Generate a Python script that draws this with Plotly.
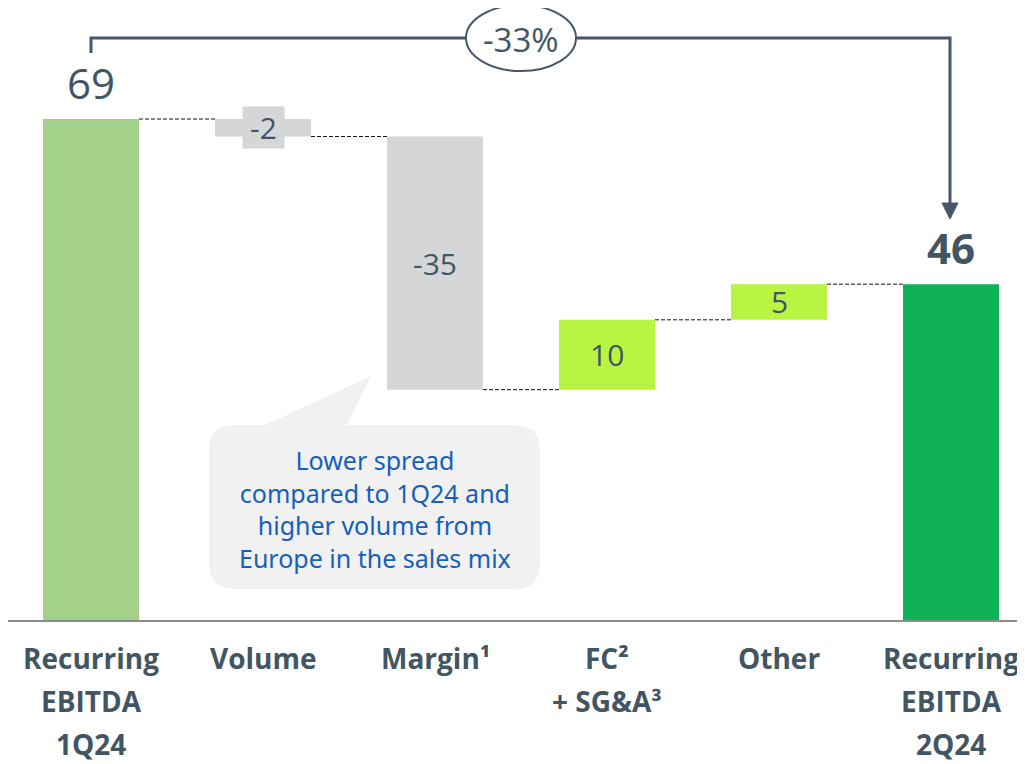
import plotly.graph_objects as go

# --- data ---------------------------------------------------------------
categories = ["Recurring EBITDA 1Q24", "Volume", "Margin¹", "FC² + SG&A³", "Other", "Recurring EBITDA 2Q24"]
cat_lines = [["Recurring", "EBITDA", "1Q24"], ["Volume"], ["Margin¹"],
             ["FC²", "+ SG&A³"], ["Other"], ["Recurring", "EBITDA", "2Q24"]]
measures = ["absolute", "relative", "relative", "relative", "relative", "total"]
values = [69, -2.4, -34.8, 9.6, 4.9, 46.3]
labels = ["69", "-2", "-35", "10", "5", "46"]
colors = ["#a4d18a", "#d5d6d8", "#d5d6d8", "#b9f443", "#b9f443", "#0fb356"]
change_label = "-33%"
callout = "Lower spread<br>compared to 1Q24 and<br>higher volume from<br>Europe in the sales mix"

# page body has an 8px margin, so the figure sits at (8, 8) in the window
OFF = 8
W, H = 1025 - OFF, 764 - OFF
INK = "#425563"
LINE = "#45576a"
NUM_FONT = "Open Sans"

# running bases for a waterfall made of plain bars
bases, heights, tops = [], [], []
run = 0
for m, v in zip(measures, values):
    if m == "relative":
        bases.append(run); heights.append(v); run += v
    else:
        bases.append(0); heights.append(v); run = v
    tops.append(run)

xs = list(range(len(categories)))
BW = 0.558
STEP, X0, Y0, SCALE = 172, 91, 621, 7.275  # window pixels for category spacing, axis origin

# window pixel -> paper helpers
def px(x): return (x - OFF) / W
def py(y): return 1 - (y - OFF) / H

fig = go.Figure()
fig.add_trace(go.Bar(x=xs, y=heights, base=bases, width=BW,
                     marker=dict(color=colors, line=dict(width=0)),
                     hoverinfo="skip"))

fig.update_layout(
    width=W, height=H, margin=dict(l=0, r=0, t=0, b=0),
    paper_bgcolor="white", plot_bgcolor="white", showlegend=False,
    xaxis=dict(range=[(OFF - X0) / STEP, (1025 - X0) / STEP], visible=False, fixedrange=True),
    yaxis=dict(range=[-(764 - Y0) / SCALE, (Y0 - OFF) / SCALE], visible=False, fixedrange=True),
)

# baseline
fig.add_shape(type="line", xref="paper", yref="y", x0=px(5), x1=1, y0=0, y1=0,
              line=dict(color="#8c8c8c", width=2))

# dashed connectors
for i in range(len(xs) - 1):
    lvl = tops[i]
    fig.add_shape(type="line", xref="x", yref="y", x0=xs[i] + BW / 2, x1=xs[i + 1] - BW / 2,
                  y0=lvl, y1=lvl, line=dict(color="#111", width=1, dash="4px,2px"))

# value labels
for i, (m, lab) in enumerate(zip(measures, labels)):
    if m != "relative":
        bold = i == len(xs) - 1
        fig.add_annotation(x=xs[i], y=tops[i], yanchor="bottom", yshift=6, showarrow=False,
                           text=f"<b>{lab}</b>" if bold else lab,
                           font=dict(family=NUM_FONT, size=42, color=INK))
    elif abs(heights[i]) < 4:
        fig.add_annotation(x=xs[i], y=bases[i] + heights[i] / 2, showarrow=False, text=lab,
                           xanchor="center", yanchor="middle",
                           width=41, height=41, bgcolor="#d5d6d8", borderpad=0,
                           font=dict(family=NUM_FONT, size=30, color=INK))
    else:
        fig.add_annotation(x=xs[i], y=bases[i] + heights[i] / 2, showarrow=False, text=lab,
                           xanchor="center", yanchor="middle",
                           font=dict(family=NUM_FONT, size=30, color=INK))

# category labels, one line at a time for tighter control of spacing
for i, lines in enumerate(cat_lines):
    for j, t in enumerate(lines):
        fig.add_annotation(x=xs[i], xref="x", yref="paper", y=py(658 + 43 * j), showarrow=False,
                           xanchor="center", yanchor="middle",
                           text=f"<b>{t}</b>", font=dict(family=NUM_FONT, size=28, color=INK))

# bracket with arrow from first to last bar
fig.add_shape(type="path", xref="paper", yref="paper",
              path=f"M {px(91)},{py(53)} L {px(91)},{py(38)} L {px(950)},{py(38)} L {px(950)},{py(206)}",
              line=dict(color=LINE, width=3))
fig.add_shape(type="path", xref="paper", yref="paper",
              path=f"M {px(942)},{py(203)} L {px(958)},{py(203)} L {px(950)},{py(219)} Z",
              fillcolor=LINE, line=dict(color=LINE, width=1))
fig.add_shape(type="circle", xref="paper", yref="paper",
              x0=px(466), x1=px(576), y0=py(71), y1=py(5),
              fillcolor="white", line=dict(color=LINE, width=2))
fig.add_annotation(xref="paper", yref="paper", x=px(521), y=py(39), showarrow=False,
                   xanchor="center", yanchor="middle",
                   text=change_label, font=dict(family=NUM_FONT, size=33, color=INK))

# callout bubble
L_, R_, T_, B_, r = 209, 540, 425, 589, 26
bubble = (f"M {px(L_ + r)},{py(T_)} L {px(265)},{py(T_)} L {px(371)},{py(376)} L {px(347)},{py(T_)} "
          f"L {px(R_ - r)},{py(T_)} Q {px(R_)},{py(T_)} {px(R_)},{py(T_ + r)} "
          f"L {px(R_)},{py(B_ - r)} Q {px(R_)},{py(B_)} {px(R_ - r)},{py(B_)} "
          f"L {px(L_ + r)},{py(B_)} Q {px(L_)},{py(B_)} {px(L_)},{py(B_ - r)} "
          f"L {px(L_)},{py(T_ + r)} Q {px(L_)},{py(T_)} {px(L_ + r)},{py(T_)} Z")
fig.add_shape(type="path", xref="paper", yref="paper", path=bubble,
              fillcolor="#f1f1f1", line=dict(width=0), layer="below")
fig.add_annotation(xref="paper", yref="paper", x=px(375), y=py(509), showarrow=False,
                   xanchor="center", yanchor="middle",
                   text=callout, align="center",
                   font=dict(family="Noto Sans", size=25, color="#1560bd"))

fig.write_html("out.html")
